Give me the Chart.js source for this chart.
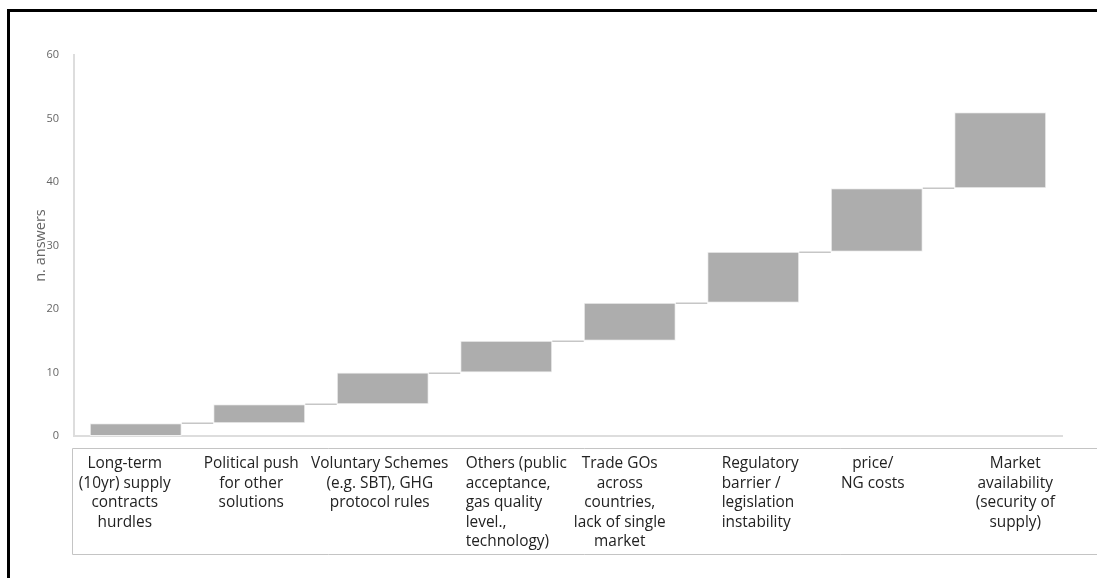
<!DOCTYPE html>
<html>
<head>
<meta charset="utf-8">
<script src="https://cdn.jsdelivr.net/npm/chart.js@4.4.1/dist/chart.umd.min.js"></script>
<style>
  html, body { margin: 0; padding: 0; background: #fff; }
  #wrap { position: relative; width: 1097px; height: 578px; overflow: hidden; }
  #wrap canvas { position: absolute; left: 0; top: 0; }
  #frame { position: absolute; left: 7px; top: 9px; width: 1200px; height: 700px;
           border-top: 3px solid #000; border-left: 3px solid #000; pointer-events: none; }
</style>
</head>
<body>
<div id="wrap">
  <canvas id="chart" width="1097" height="578"></canvas>
  <div id="frame"></div>
</div>
<script>
// Barrier categories (multi-line labels as drawn under the chart)
const categories = [
  ['Long-term', '(10yr) supply', 'contracts', 'hurdles'],
  ['Political push', 'for other', 'solutions'],
  ['Voluntary Schemes', '(e.g. SBT), GHG', 'protocol rules'],
  ['Others (public', 'acceptance,', 'gas quality', 'level.,', 'technology)'],
  ['Trade GOs', 'across', 'countries,', 'lack of single', 'market'],
  ['Regulatory', 'barrier /', 'legislation', 'instability'],
  ['price/', 'NG costs'],
  ['Market', 'availability', '(security of', 'supply)']
];

// Answers per barrier
const answers = [2, 3, 5, 5, 6, 8, 10, 12];

// Running total after each step of the waterfall
const runningTotal = [2, 5, 10, 15, 21, 29, 39, 51];

// Y axis ticks
const yTicks = [0, 10, 20, 30, 40, 50, 60];

const stepRanges = runningTotal.map((top, i) => [top - answers[i], top]);

const FONT = "'Open Sans', 'Noto Sans', sans-serif";

// Thin connectors joining the top of one step to the base of the next
const stepConnectors = {
  id: 'stepConnectors',
  beforeDatasetsDraw(chart) {
    const meta = chart.getDatasetMeta(0);
    const y = chart.scales.y;
    const ctx = chart.ctx;
    ctx.save();
    ctx.strokeStyle = '#c6c6c6';
    ctx.lineWidth = 1.5;
    for (let i = 0; i < meta.data.length - 1; i++) {
      const a = meta.data[i], b = meta.data[i + 1];
      const py = Math.round(y.getPixelForValue(runningTotal[i])) + 0.25;
      ctx.beginPath();
      ctx.moveTo(a.x + a.width / 2, py);
      ctx.lineTo(b.x - b.width / 2, py);
      ctx.stroke();
    }
    ctx.restore();
  }
};

// Category label table under the plot
const labelTable = {
  id: 'labelTable',
  afterDraw(chart, args, opts) {
    const ctx = chart.ctx;
    const x = chart.scales.x;
    const area = chart.chartArea;
    const top = area.bottom + 12.5;
    const bottom = area.bottom + 118.5;
    const left = area.left - 1.5;
    ctx.save();
    ctx.strokeStyle = '#c4c4c4';
    ctx.lineWidth = 1;
    ctx.beginPath();
    ctx.moveTo(left, top); ctx.lineTo(chart.width, top);
    ctx.moveTo(left, bottom); ctx.lineTo(chart.width, bottom);
    ctx.moveTo(left, top); ctx.lineTo(left, bottom);
    ctx.stroke();

    ctx.fillStyle = '#222';
    ctx.font = '15.4px ' + FONT;
    ctx.textBaseline = 'middle';
    categories.forEach((lines, i) => {
      const cx = x.getPixelForValue(i) + (opts.shift[i] || 0);
      const align = opts.align[i] || 'center';
      let tx = cx;
      if (align === 'left') {
        const w = Math.max(...lines.map(l => ctx.measureText(l).width));
        tx = cx - w / 2;
      }
      ctx.textAlign = align;
      lines.forEach((line, k) => {
        ctx.fillText(line, tx, area.bottom + 28 + k * 19.5);
      });
    });
    ctx.restore();
  }
};

new Chart(document.getElementById('chart'), {
  type: 'bar',
  data: {
    labels: categories.map(c => c.join(' ')),
    datasets: [{
      data: stepRanges,
      backgroundColor: '#adadad',
      borderColor: '#f1f1f1',
      borderWidth: 1,
      borderSkipped: false,
      categoryPercentage: 1,
      barPercentage: 0.745
    }]
  },
  options: {
    responsive: false,
    animation: false,
    events: [],
    layout: { padding: { left: 0, right: 35, top: 55, bottom: 142 } },
    plugins: {
      legend: { display: false },
      tooltip: { enabled: false },
      labelTable: {
        align: ['center', 'center', 'center', 'left', 'center', 'left', 'center', 'center'],
        shift: [-11, -8, -3, 10, -10, 7, -4, 15]
      }
    },
    scales: {
      x: {
        type: 'category',
        grid: { display: false },
        border: { display: true, color: '#dddddd', width: 2 },
        ticks: { display: false },
        afterFit(s) { s.height = 0; }
      },
      y: {
        min: 0,
        max: 60,
        afterBuildTicks(s) { s.ticks = yTicks.map(v => ({ value: v })); },
        grid: { display: false },
        border: { display: true, color: '#dddddd', width: 2 },
        ticks: { color: '#666', font: { family: FONT, size: 11 }, padding: 7 },
        title: {
          display: true,
          text: 'n. answers',
          color: '#666',
          font: { family: FONT, size: 14.5 },
          padding: { top: 32, bottom: 0 }
        },
        afterFit(s) { s.width = 74; }
      }
    }
  },
  plugins: [stepConnectors, labelTable]
});
</script>
</body>
</html>
